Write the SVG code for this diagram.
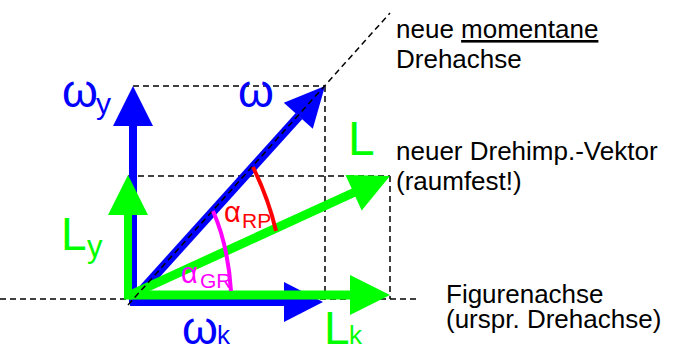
<svg xmlns="http://www.w3.org/2000/svg" width="675" height="349" viewBox="0 0 675 349">
<style>
.dash{stroke:#000;stroke-width:1.5;stroke-dasharray:6,4;fill:none}
.b{stroke:#0000ff;fill:none}
.g{stroke:#00ff00;fill:none}
.bf{fill:#0000ff}
.gf{fill:#00ff00}
.t{font-family:"Liberation Sans",Arial,sans-serif;fill:#000;font-size:26px}
.s{font-family:"Liberation Sans",Arial,sans-serif}
</style>
<rect width="675" height="349" fill="#fff"/>
<g id="connectors">
<g id="guides">
<line class="dash" x1="0" y1="299" x2="420" y2="299"/>
<line class="dash" x1="133" y1="86" x2="325" y2="86"/>
<line class="dash" x1="325" y1="86" x2="325" y2="299"/>
<line class="dash" x1="128" y1="176" x2="390" y2="176"/>
<line class="dash" x1="390" y1="176" x2="390" y2="299"/>
</g>
</g>
<g id="omega-y">
<line class="b" x1="133" y1="303" x2="133" y2="120" stroke-width="8"/>
<polygon class="bf" points="133,86 113,126 153,126"/>
</g>
<g id="omega-k">
<line class="b" x1="130" y1="302" x2="290" y2="302" stroke-width="8"/>
<polygon class="bf" points="323,302 284,282 284,322"/>
</g>
<g id="omega">
<line class="b" x1="133" y1="300" x2="299" y2="116" stroke-width="9"/>
<polygon class="bf" points="325,86 312.8,128.8 283.8,102.8"/>
</g>
<g id="L-y">
<line class="g" x1="128" y1="298" x2="128" y2="212" stroke-width="8"/>
<polygon class="gf" points="128,175 108,215 148,215"/>
</g>
<g id="L-k">
<line class="g" x1="124" y1="295" x2="353" y2="295" stroke-width="9"/>
<polygon class="gf" points="390,295 350,275 350,315"/>
</g>
<g id="L">
<line class="g" x1="128" y1="296" x2="355" y2="192" stroke-width="9"/>
<polygon class="gf" points="390,176 361.7,210.4 345.5,175"/>
</g>
<g id="axis-diagonal">
<line class="dash" x1="128" y1="305" x2="390" y2="13"/>
</g>
<g id="alpha-RP">
<path d="M253,167 Q269,200 276,231" stroke="#ff0000" stroke-width="4" fill="none"/>
<text class="s" fill="#ff0000"><tspan x="224" y="222" font-size="29">α</tspan><tspan x="242" y="228" font-size="21">RP</tspan></text>
</g>
<g id="alpha-GR">
<path d="M213,211 Q228,245 231,291" stroke="#ff00ff" stroke-width="4" fill="none"/>
<text class="s" fill="#ff00ff"><tspan x="181" y="283" font-size="29">α</tspan><tspan x="200" y="288" font-size="21">GR</tspan></text>
</g>
<g id="labels">
<text class="s" fill="#0000ff" x="238" y="107" font-size="46">ω</text>
<text class="s" fill="#0000ff"><tspan x="62" y="107" font-size="46">ω</tspan><tspan x="96" y="114" font-size="30">y</tspan></text>
<text class="s" fill="#00ff00" x="348" y="155" font-size="48">L</text>
<text class="s" fill="#00ff00"><tspan x="61" y="250" font-size="46">L</tspan><tspan x="87" y="257" font-size="31">y</tspan></text>
<text class="s" fill="#0000ff"><tspan x="182" y="344" font-size="46">ω</tspan><tspan x="217" y="344" font-size="26">k</tspan></text>
<text class="s" fill="#00ff00"><tspan x="324" y="344" font-size="46">L</tspan><tspan x="349" y="344" font-size="26">k</tspan></text>
</g>
<g id="text-axis">
<text class="t" x="396" y="38">neue <tspan text-decoration="underline">momentane</tspan></text>
<text class="t" x="396" y="68">Drehachse</text>
</g>
<g id="text-L">
<text class="t" x="396" y="160">neuer Drehimp.-Vektor</text>
<text class="t" x="396" y="190">(raumfest!)</text>
</g>
<g id="text-figure">
<text class="t" x="446" y="303">Figurenachse</text>
<text class="t" x="446" y="328">(urspr. Drehachse)</text>
</g>
</svg>
